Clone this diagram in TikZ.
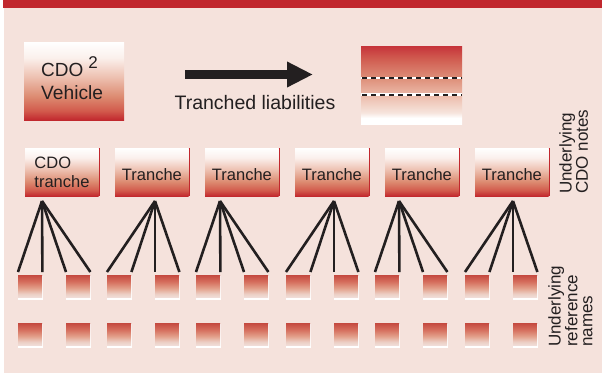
\documentclass[tikz,border=0pt]{standalone}
\usepackage{fontspec}
\setmainfont{Liberation Sans}
\usetikzlibrary{arrows.meta}
\definecolor{bg}{HTML}{F5E2DC}
\definecolor{cdored}{HTML}{C1272D}
\definecolor{ink}{HTML}{231F20}
\definecolor{bxA}{HTML}{D25A4C}
\definecolor{bxB}{HTML}{DC8A70}
\definecolor{bxC}{HTML}{EDC0B0}
\definecolor{bxD}{HTML}{FBF0EC}
\definecolor{lbA}{HTML}{C6343A}
\definecolor{lbB}{HTML}{D05A4F}
\definecolor{lbC}{HTML}{DD8D77}
\definecolor{lbD}{HTML}{EDBFAF}
\definecolor{lbE}{HTML}{F6E4DC}
\definecolor{sqA}{HTML}{C54A40}
\definecolor{sqB}{HTML}{D66F5E}
\definecolor{sqC}{HTML}{E3A18C}
\definecolor{sqD}{HTML}{ECCFC5}
\definecolor{sqE}{HTML}{F0DDD8}
\pgfdeclareverticalshading{boxshade}{100bp}{color(0bp)=(cdored); color(25bp)=(cdored); color(31bp)=(bxA); color(40bp)=(bxB); color(52.5bp)=(bxC); color(65bp)=(bxD); color(75bp)=(white); color(100bp)=(white)}
\pgfdeclareverticalshading{liabshade}{100bp}{color(0bp)=(white); color(25bp)=(white); color(29bp)=(white); color(32.5bp)=(lbE); color(42.5bp)=(lbD); color(55bp)=(lbC); color(67.5bp)=(lbB); color(75bp)=(lbA); color(100bp)=(lbA)}
\pgfdeclareverticalshading{sqshade}{100bp}{color(0bp)=(sqE); color(25bp)=(sqE); color(32.5bp)=(sqD); color(45bp)=(sqC); color(60bp)=(sqB); color(75bp)=(sqA); color(100bp)=(sqA)}
\tikzset{
  tbox/.style={anchor=north west, minimum width=73.5bp, minimum height=48bp, inner sep=0pt, shading=boxshade, text=ink, font=\fontsize{16.5bp}{19bp}\selectfont},
  sqbox/.style={anchor=north west, minimum width=24bp, minimum height=22bp, inner sep=0pt, shading=sqshade},
  fan/.style={draw=ink, line width=2.6bp},
  lab/.style={inner sep=0pt, align=left, text=ink, font=\fontsize{17bp}{15bp}\selectfont},
  txt/.style={inner sep=0pt, text=ink}
}
\begin{document}
\begin{tikzpicture}[x=1bp,y=-1bp]
\useasboundingbox (0,0) rectangle (602,373);
\fill[white] (0,0) rectangle (602,373);
\fill[bg] (4,8) rectangle (602,373);
\fill[cdored] (3,0) rectangle (602,8);

% CDO^2 vehicle
\node[anchor=north west, minimum width=100bp, minimum height=78bp, inner sep=0pt, shading=boxshade] (veh) at (24,42) {};
\node[txt, anchor=base west, font=\fontsize{19bp}{23bp}\selectfont] (cdo) at (41,76) {CDO\hspace{5bp}\raisebox{8bp}{\fontsize{17bp}{17bp}\selectfont 2}};
\node[txt, anchor=base west, font=\fontsize{19.2bp}{23bp}\selectfont] (vehtxt) at (41,99) {Vehicle};

% arrow
\coordinate (aS) at (185,74.5);
\coordinate (aE) at (313,74.5);
\draw[ink, line width=9bp, -{Triangle[length=26bp,width=24bp]}] (aS) -- (aE);
\node[txt, anchor=base, font=\fontsize{19.5bp}{23bp}\selectfont] (tl) at (255,109) {Tranched liabilities};

% tranched liabilities box
\node[anchor=north west, minimum width=101bp, minimum height=78bp, inner sep=0pt, shading=liabshade] (liab) at (361,46) {};
\draw[white, line width=2.4bp] (361,78) -- (462,78) (361,94.5) -- (462,94.5);
\draw[ink, line width=2bp, dash pattern=on 5bp off 4bp] (362,78) -- (462,78) (362,94.5) -- (462,94.5);

% tranche boxes
\node[tbox, align=left] (t1) at (25,148) {CDO\\tranche};
\foreach \i/\x in {2/115,3/205,4/295,5/385,6/475}{
  \node[tbox, text height=16bp, text depth=0bp] (t\i) at (\x,148) {Tranche};
}
\foreach \i in {1,...,6}{
  \draw[cdored, line width=1.4bp] ([xshift=0.7bp]t\i.north east) -- ([xshift=0.7bp]t\i.south east);
}

% reference name squares
\foreach \j/\x in {1/18,2/66,3/107,4/155,5/196,6/244,7/286,8/334,9/375,10/423,11/465,12/513}{
  \fill[white] (\x,276) rectangle (\x+25,299.5);
  \node[sqbox] (s\j) at (\x,275) {};
  \fill[white] (\x,324) rectangle (\x+25,347.5);
  \node[sqbox] (r\j) at (\x,323) {};
}

% fans
\coordinate (p1) at (42,201);
\coordinate (p2) at (155,201);
\coordinate (p3) at (220,201);
\coordinate (p4) at (334,201);
\coordinate (p5) at (399,201);
\coordinate (p6) at (513,201);
\foreach \k/\a/\b in {1/1/2,2/3/4,3/5/6,4/7/8,5/9/10,6/11/12}{
  \draw[fan] (p\k) -- ([yshift=3bp]s\a.north west);
  \draw[fan] (p\k) -- ([yshift=3bp]s\a.north east);
  \draw[fan] (p\k) -- ([yshift=3bp]s\b.north west);
  \draw[fan] (p\k) -- ([yshift=3bp]s\b.north east);
}

% side labels
\node[lab, anchor=north west, rotate=90] (l1) at (559,194) {Underlying\\CDO notes};
\node[lab, anchor=north west, rotate=90] (l2) at (548,347) {Underlying\\reference\\names};
\end{tikzpicture}
\end{document}
